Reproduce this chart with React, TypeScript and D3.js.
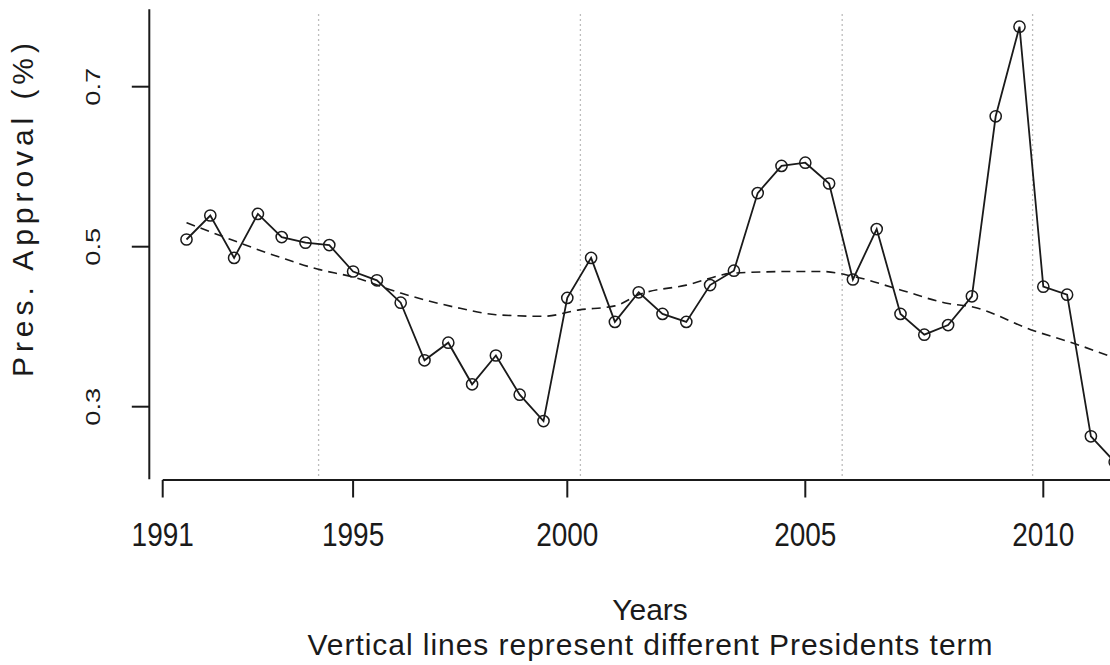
import React from 'react'
import * as d3 from 'd3'

// semi-annual approval readings, one per half year starting mid 1991
const approval = [
  0.509, 0.539, 0.486, 0.541, 0.512, 0.505, 0.502, 0.469, 0.458, 0.430,
  0.358, 0.380, 0.328, 0.364, 0.315, 0.282, 0.436, 0.486, 0.406, 0.443,
  0.416, 0.406, 0.452, 0.470, 0.567, 0.601, 0.605, 0.579, 0.459, 0.522,
  0.416, 0.390, 0.402, 0.438, 0.663, 0.775, 0.450, 0.440, 0.263, 0.231,
]

// smoothed trend (dashed), read as [index, value]
const trendIdx = [0, 1.5, 4, 5.5, 7, 9, 11.5, 13, 15, 16.5, 18, 19, 21, 23, 25.5, 26.7, 28, 30, 32, 33, 35.5, 37.3, 38.8]
const trendVal = [0.530, 0.513, 0.486, 0.472, 0.462, 0.442, 0.423, 0.415, 0.413, 0.421, 0.426, 0.44, 0.452, 0.467, 0.469, 0.469, 0.463, 0.446, 0.429, 0.425, 0.396, 0.379, 0.363]

// x axis labels and where they sit on the index scale
const yearLabels = ['1991', '1995', '2000', '2005', '2010']
const yearAt = [-1, 7, 16, 26, 36]

// president term boundaries (index scale)
const termLines = [5.55, 16.55, 27.55, 35.55]

const yTicks = [0.3, 0.5, 0.7]

function App() {
  const width = 1110
  const height = 665

  const plotTop = 9.3
  const plotBottom = 479.3
  const yAxisX = 149.3
  const xAxisY = 480
  const tick = 17.5

  const xScale = d3.scaleLinear().domain([-1, 36]).range([162.7, 1043.3])
  const yScale = d3.scaleLinear().domain([0.3, 0.7]).range([406.7, 86.7])

  const line = d3
    .line<number>()
    .x((d, i) => xScale(i))
    .y(d => yScale(d))

  const trend = d3
    .line<number>()
    .x((d, i) => xScale(trendIdx[i]))
    .y(d => yScale(d))
    .curve(d3.curveMonotoneX)

  const ink = '#1a1a1a'
  const font = '"Liberation Sans", Arial, sans-serif'

  return (
    <svg
      width={width}
      height={height}
      style={{ position: 'absolute', left: 0, top: 0, background: '#fff' }}
      fontFamily={font}
    >
      {/* president term lines */}
      {termLines.map(t => (
        <line key={t} x1={xScale(t)} x2={xScale(t)} y1={14} y2={plotBottom}
          stroke="#bdbdbd" strokeWidth={1.3} strokeDasharray="2 3" />
      ))}

      {/* trend */}
      <path d={trend(trendVal) || ''} fill="none" stroke={ink} strokeWidth={1.6} strokeDasharray="9 6" />

      {/* approval series */}
      <path d={line(approval) || ''} fill="none" stroke={ink} strokeWidth={1.8} />
      {approval.map((v, i) => (
        <circle key={i} cx={xScale(i)} cy={yScale(v)} r={5.6} fill="none" stroke={ink} strokeWidth={1.5} />
      ))}

      {/* y axis */}
      <line x1={yAxisX} x2={yAxisX} y1={plotTop} y2={plotBottom} stroke={ink} strokeWidth={2} />
      {yTicks.map(t => (
        <g key={t}>
          <line x1={yAxisX - tick} x2={yAxisX} y1={yScale(t)} y2={yScale(t)} stroke={ink} strokeWidth={2} />
          <text transform={`translate(100 ${yScale(t)}) rotate(-90) scale(1.3 1)`}
            textAnchor="middle" fontSize={21} fill={ink}>{t}</text>
        </g>
      ))}
      <text transform="translate(33 210) rotate(-90)" textAnchor="middle" fontSize={30}
        fill={ink} textLength={334} lengthAdjust="spacing">Pres. Approval (%)</text>

      {/* x axis */}
      <line x1={xScale(yearAt[0])} x2={width} y1={xAxisY} y2={xAxisY} stroke={ink} strokeWidth={2} />
      {yearAt.map((p, i) => (
        <g key={yearLabels[i]}>
          <line x1={xScale(p)} x2={xScale(p)} y1={xAxisY} y2={xAxisY + tick} stroke={ink} strokeWidth={2} />
          <text transform={`translate(${xScale(p)} 546) scale(1 1.2)`} textAnchor="middle"
            fontSize={28} fill={ink}>{yearLabels[i]}</text>
        </g>
      ))}
      <text x={650} y={620} textAnchor="middle" fontSize={30} fill={ink}>Years</text>
      <text x={650} y={655} textAnchor="middle" fontSize={30} fill={ink}
        textLength={685} lengthAdjust="spacing">Vertical lines represent different Presidents term</text>
    </svg>
  )
}

export default App
